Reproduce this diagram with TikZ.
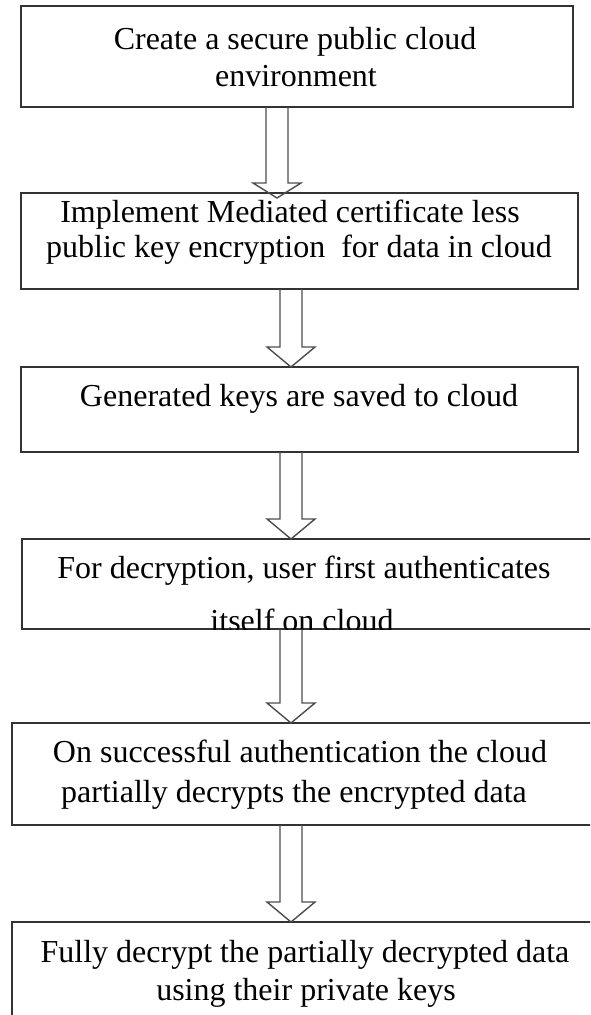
\documentclass[tikz,border=0pt]{standalone}
\usepackage{fontspec}
\setmainfont{Liberation Serif}
\usetikzlibrary{calc}
\definecolor{boxline}{HTML}{333333}
\definecolor{arrowline}{HTML}{4D4D4D}
\tikzset{
  stepbox/.style={rectangle, draw=boxline, line width=1.8pt, fill=white,
    inner sep=0pt, outer sep=0pt, anchor=north west},
  steptext/.style={anchor=base, inner sep=0pt, text=black,
    font=\fontsize{32}{38}\selectfont},
  % hollow block arrow: #1 = head length, #2 = how far the tip runs past the target
  hollow/.style 2 args={draw=arrowline, line width=1.4pt, line join=miter,
    to path={let \p1=(\tikztostart), \p2=(\tikztotarget) in
      (\x1-11pt,\y1) -- (\x1-11pt,\y2+#1) -- (\x1-24pt,\y2+#1) -- (\x1,\y2-#2)
      -- (\x1+24pt,\y2+#1) -- (\x1+11pt,\y2+#1) -- (\x1+11pt,\y1)}}
}
\begin{document}
\begin{tikzpicture}[x=1pt,y=1pt]
\clip (0,0) rectangle (590,-1015);
\fill[white] (0,0) rectangle (590,-1015);

% process steps
\node[stepbox, minimum width=552pt, minimum height=101pt] (b1) at (21,-6) {};
\node[stepbox, minimum width=557pt, minimum height=96pt]  (b2) at (21,-193) {};
\node[stepbox, minimum width=557pt, minimum height=85pt]  (b3) at (21,-367) {};
\node[stepbox, minimum width=598pt, minimum height=90pt]  (b4) at (22,-539) {};
\node[stepbox, minimum width=608pt, minimum height=102pt] (b5) at (12,-723) {};
\node[stepbox, minimum width=608pt, minimum height=118pt] (b6) at (12,-922) {};

% step texts
\node[steptext] (t1a) at (295,-49)  {Create a secure public cloud};
\node[steptext] (t1b) at (296,-86)  {environment};
\node[steptext] (t2a) at (290,-222) {Implement Mediated certificate less};
\node[steptext] (t2b) at (299,-257) {public key encryption \ for data in cloud};
\node[steptext] (t3)  at (299,-406) {Generated keys are saved to cloud};
\begin{scope}
  \clip (b4.north west) rectangle (b4.south east);
  \node[steptext] (t4a) at (304,-578) {For decryption, user first authenticates};
  \node[steptext] (t4b) at (302,-631) {itself on cloud};
\end{scope}
\node[steptext] (t5a) at (300,-762)  {On successful authentication the cloud};
\node[steptext] (t5b) at (294,-802)  {partially decrypts the encrypted data};
\node[steptext] (t6a) at (305,-962)  {Fully decrypt the partially decrypted data};
\node[steptext] (t6b) at (306,-1000) {using their private keys};

% arrows between the steps
\coordinate (ax1) at (277,0);
\coordinate (ax2) at (291,0);
\draw[hollow={10pt}{5pt}] (b1.south -| ax1) to (b2.north -| ax1);
\draw[hollow={20pt}{0pt}] (b2.south -| ax2) to (b3.north -| ax2);
\draw[hollow={20pt}{0pt}] (b3.south -| ax2) to (b4.north -| ax2);
\draw[hollow={20pt}{0pt}] (b4.south -| ax2) to (b5.north -| ax2);
\draw[hollow={20pt}{0pt}] (b5.south -| ax2) to (b6.north -| ax2);
\end{tikzpicture}
\end{document}
